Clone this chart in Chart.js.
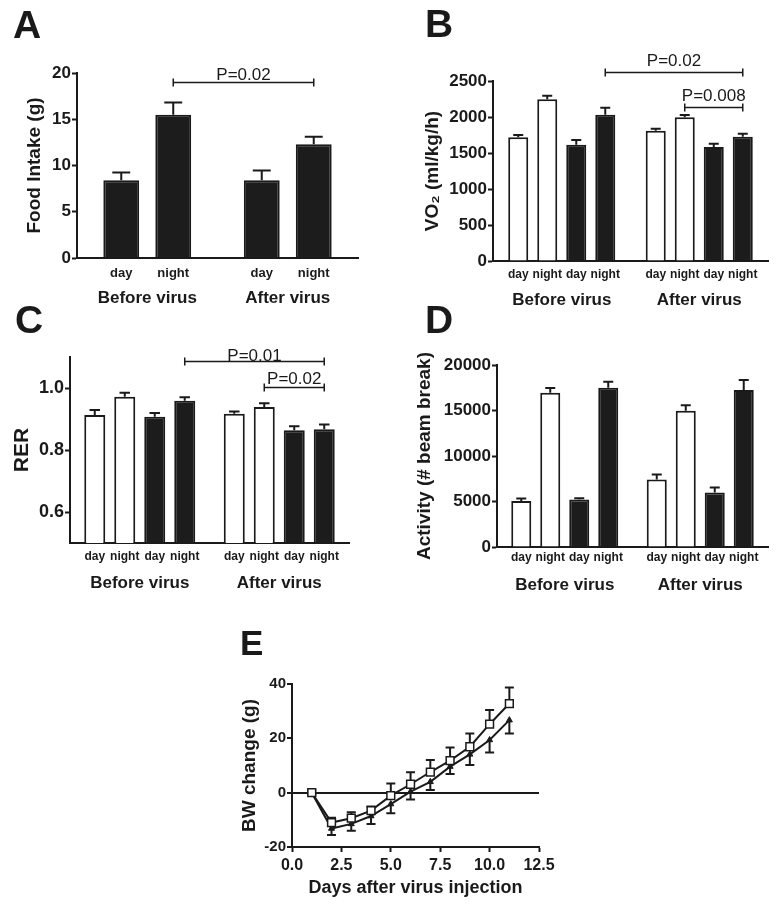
<!DOCTYPE html>
<html>
<head>
<meta charset="utf-8">
<script src="https://cdn.jsdelivr.net/npm/chart.js@4.4.1/dist/chart.umd.min.js"></script>
<style>
  html, body { margin: 0; padding: 0; background: #fff; }
  body { width: 777px; height: 907px; position: relative; overflow: hidden; }
  canvas { position: absolute; }
</style>
</head>
<body>
<canvas id="chartA" width="380" height="310" style="left:0px;top:0px"></canvas>
<canvas id="chartB" width="387" height="310" style="left:390px;top:0px"></canvas>
<canvas id="chartC" width="380" height="310" style="left:0px;top:300px"></canvas>
<canvas id="chartD" width="387" height="310" style="left:390px;top:300px"></canvas>
<canvas id="chartE" width="400" height="287" style="left:200px;top:620px"></canvas>
<script>
// ---- data ----
const groups = ['Before virus', 'After virus'];

// A: food intake (g)
const foodDay = [8.4, 8.4];
const foodNight = [15.5, 12.3];
const foodDayErr = [0.85, 1.05];
const foodNightErr = [1.3, 0.8];
const foodTicks = [0, 5, 10, 15, 20];

// B: VO2 (ml/kg/h)  white = first group, black = second group
const vo2WhiteDay = [1720, 1810];
const vo2WhiteNight = [2245, 1995];
const vo2BlackDay = [1615, 1585];
const vo2BlackNight = [2030, 1727];
const vo2WhiteDayErr = [30, 28];
const vo2WhiteNightErr = [50, 33];
const vo2BlackDayErr = [65, 42];
const vo2BlackNightErr = [100, 42];
const vo2Ticks = [0, 500, 1000, 1500, 2000, 2500];

// C: RER
const rerWhiteDay = [0.913, 0.917];
const rerWhiteNight = [0.972, 0.939];
const rerBlackDay = [0.907, 0.864];
const rerBlackNight = [0.959, 0.867];
const rerWhiteDayErr = [0.016, 0.007];
const rerWhiteNightErr = [0.013, 0.012];
const rerBlackDayErr = [0.012, 0.013];
const rerBlackNightErr = [0.011, 0.015];
const rerTicks = [0.6, 0.8, 1.0];

// D: activity (# beam break)
const actWhiteDay = [5060, 7410];
const actWhiteNight = [16950, 14970];
const actBlackDay = [5210, 5980];
const actBlackNight = [17500, 17250];
const actWhiteDayErr = [260, 550];
const actWhiteNightErr = [510, 620];
const actBlackDayErr = [150, 550];
const actBlackNightErr = [660, 1100];
const actTicks = [0, 5000, 10000, 15000, 20000];

// E: body weight change (g)
const days = [1, 2, 3, 4, 5, 6, 7, 8, 9, 10, 11];
const bwSquare = [0, -11.0, -9.4, -6.6, -1.1, 3.1, 7.6, 11.8, 16.9, 25.2, 32.8];
const bwSquareErr = [0.8, 1.8, 2.2, 1.5, 4.5, 4.4, 4.4, 4.8, 4.9, 5.2, 5.9];
const bwTriangle = [0, -13.2, -11.5, -8.6, -4.2, 0.4, 4.0, 9.6, 14.1, 19.4, 26.7];
const bwTriangleErr = [0.8, 2.4, 2.5, 2.9, 3.4, 2.9, 3.0, 2.7, 3.9, 4.6, 4.9];
const dayTicks = [0, 2.5, 5, 7.5, 10, 12.5];
const bwTicks = [-20, 0, 20, 40];

// ---- style ----
const INK = '#1a1a1a';
const FONT = '"Liberation Sans", Arial, Helvetica, sans-serif';
Chart.defaults.font.family = FONT;
Chart.defaults.color = INK;

// error bars, day/night labels, P-value brackets, panel letters
const decor = {
  id: 'decor',
  beforeDatasetsDraw(chart, args, o) {
    const ctx = chart.ctx, ys = chart.scales.y;
    ctx.save();
    ctx.strokeStyle = INK;
    ctx.lineWidth = 2;
    chart.data.datasets.forEach((ds, di) => {
      if (!ds.errors) return;
      const dir = ds.errDir || 1;
      chart.getDatasetMeta(di).data.forEach((el, i) => {
        const raw = ds.data[i];
        const v = typeof raw === 'object' ? raw.y : raw;
        const y0 = ys.getPixelForValue(v);
        const y1 = ys.getPixelForValue(v + dir * ds.errors[i]);
        const half = (o.cap || el.width / 2) / 2;
        ctx.beginPath();
        ctx.moveTo(el.x, y0); ctx.lineTo(el.x, y1);
        ctx.moveTo(el.x - half, y1); ctx.lineTo(el.x + half, y1);
        ctx.stroke();
      });
    });
    ctx.restore();
  },
  afterDraw(chart, args, o) {
    const ctx = chart.ctx, area = chart.chartArea, ys = chart.scales.y;
    ctx.save();
    ctx.fillStyle = INK;
    ctx.strokeStyle = INK;

    ctx.font = 'bold ' + o.letterSize + 'px ' + FONT;
    ctx.textAlign = 'left';
    ctx.textBaseline = 'alphabetic';
    ctx.fillText(o.letter, o.letterX, o.letterY);

    if (o.subY) {
      ctx.font = 'bold ' + (o.subSize || 12) + 'px ' + FONT;
      ctx.textAlign = 'center';
      ctx.textBaseline = 'middle';
      chart.data.datasets.forEach((ds, di) => {
        chart.getDatasetMeta(di).data.forEach(el => {
          ctx.fillText(ds.label, el.x, area.bottom + o.subY);
        });
      });
    }

    (o.brackets || []).forEach(b => {
      const x0 = chart.getDatasetMeta(b.from[0]).data[b.from[1]].x;
      const x1 = chart.getDatasetMeta(b.to[0]).data[b.to[1]].x;
      const y = Math.round(ys.getPixelForValue(b.y)) + 0.5;
      ctx.lineWidth = 1.5;
      ctx.beginPath();
      ctx.moveTo(x0, y); ctx.lineTo(x1, y);
      ctx.moveTo(x0, y - 4); ctx.lineTo(x0, y + 4);
      ctx.moveTo(x1, y - 4); ctx.lineTo(x1, y + 4);
      ctx.stroke();
      ctx.font = '17px ' + FONT;
      ctx.textAlign = 'center';
      ctx.textBaseline = 'alphabetic';
      ctx.fillText(b.text, (x0 + x1) / 2, y - b.gap);
    });
    ctx.restore();
  }
};

function bars(label, data, errors, fill, cp, bp) {
  return {
    label, data, errors,
    backgroundColor: fill, borderColor: INK, borderWidth: 2,
    categoryPercentage: cp, barPercentage: bp
  };
}

function barChart(id, c) {
  return new Chart(document.getElementById(id), {
    type: 'bar',
    data: { labels: groups, datasets: c.datasets },
    plugins: [decor],
    options: {
      responsive: false,
      animation: false,
      layout: { padding: c.pad },
      plugins: { legend: { display: false }, tooltip: { enabled: false }, decor: c.decor },
      scales: {
        x: {
          grid: { display: false, drawTicks: false },
          border: { color: INK, width: 2 },
          ticks: { font: { size: 17, weight: 'bold' }, padding: c.xPad, maxRotation: 0, autoSkip: false },
          afterFit: s => { s.height = c.xH; }
        },
        y: {
          min: c.min, max: c.max,
          afterBuildTicks: s => { s.ticks = c.ticks.map(v => ({ value: v })); },
          grid: { drawOnChartArea: false, tickLength: 5, tickColor: INK, tickWidth: 2 },
          border: { color: INK, width: 2 },
          ticks: { font: { size: c.tickSize || 17, weight: 'bold' }, padding: 1, callback: c.fmt || (v => String(v)) },
          title: { display: true, text: c.title, font: { size: c.titleSize || 19, weight: 'bold' }, padding: { top: c.tPad, bottom: 0 } },
          afterFit: s => { s.width = c.yW; }
        }
      }
    }
  });
}

const WHITE = '#ffffff', BLACK = '#1c1c1c';

barChart('chartA', {
  datasets: [
    bars('day', foodDay, foodDayErr, BLACK, 0.74, 0.69),
    bars('night', foodNight, foodNightErr, BLACK, 0.74, 0.69)
  ],
  pad: { left: 0, top: 73, right: 22, bottom: 0 }, yW: 77, xH: 52, xPad: 29.8,
  min: 0, max: 20, ticks: foodTicks, title: 'Food Intake (g)', tPad: 23.6,
  decor: {
    letter: 'A', letterX: 13, letterY: 38, letterSize: 39, subY: 15, subSize: 13,
    brackets: [{ from: [1, 0], to: [1, 1], y: 19.0, text: 'P=0.02', gap: 3 }]
  }
});

barChart('chartB', {
  datasets: [
    bars('day', vo2WhiteDay, vo2WhiteDayErr, WHITE, 0.844, 0.69),
    bars('night', vo2WhiteNight, vo2WhiteNightErr, WHITE, 0.844, 0.69),
    bars('day', vo2BlackDay, vo2BlackDayErr, BLACK, 0.844, 0.69),
    bars('night', vo2BlackNight, vo2BlackNightErr, BLACK, 0.844, 0.69)
  ],
  pad: { left: 0, top: 81, right: 9, bottom: 0 }, yW: 103, xH: 49, xPad: 28.8,
  min: 0, max: 2500, ticks: vo2Ticks, title: 'VO\u2082 (ml/kg/h)', tPad: 31.6,
  decor: {
    letter: 'B', letterX: 35, letterY: 37, letterSize: 39, subY: 14,
    brackets: [
      { from: [3, 0], to: [3, 1], y: 2625, text: 'P=0.02', gap: 7 },
      { from: [1, 1], to: [3, 1], y: 2139, text: 'P=0.008', gap: 7 }
    ]
  }
});

barChart('chartC', {
  datasets: [
    bars('day', rerWhiteDay, rerWhiteDayErr, WHITE, 0.86, 0.7),
    bars('night', rerWhiteNight, rerWhiteNightErr, WHITE, 0.86, 0.7),
    bars('day', rerBlackDay, rerBlackDayErr, BLACK, 0.86, 0.7),
    bars('night', rerBlackNight, rerBlackNightErr, BLACK, 0.86, 0.7)
  ],
  pad: { left: 0, top: 57, right: 31, bottom: 0 }, yW: 70, xH: 67, xPad: 29.8,
  min: 0.5, max: 1.1, ticks: rerTicks, fmt: v => v.toFixed(1), tickSize: 18,
  title: 'RER', titleSize: 21, tPad: 9.4,
  decor: {
    letter: 'C', letterX: 15, letterY: 33, letterSize: 39, subY: 14,
    brackets: [
      { from: [3, 0], to: [3, 1], y: 1.088, text: 'P=0.01', gap: 1 },
      { from: [1, 1], to: [3, 1], y: 1.003, text: 'P=0.02', gap: 4 }
    ]
  }
});

barChart('chartD', {
  datasets: [
    bars('day', actWhiteDay, actWhiteDayErr, WHITE, 0.856, 0.69),
    bars('night', actWhiteNight, actWhiteNightErr, WHITE, 0.856, 0.69),
    bars('day', actBlackDay, actBlackDayErr, BLACK, 0.856, 0.69),
    bars('night', actBlackNight, actBlackNightErr, BLACK, 0.856, 0.69)
  ],
  pad: { left: 0, top: 65, right: 9, bottom: 0 }, yW: 107, xH: 63, xPad: 27.8,
  min: 0, max: 20000, ticks: actTicks, title: 'Activity (# beam break)', tPad: 23.6,
  decor: { letter: 'D', letterX: 35, letterY: 33, letterSize: 39, subY: 11 }
});

new Chart(document.getElementById('chartE'), {
  type: 'line',
  data: {
    datasets: [
      {
        label: 'square', data: days.map((d, i) => ({ x: d, y: bwSquare[i] })),
        errors: bwSquareErr, errDir: 1,
        borderColor: INK, borderWidth: 2, pointStyle: 'rect', pointRadius: 5.5,
        pointBackgroundColor: '#ffffff', pointBorderColor: INK, pointBorderWidth: 1.5
      },
      {
        label: 'triangle', data: days.map((d, i) => ({ x: d, y: bwTriangle[i] })),
        errors: bwTriangleErr, errDir: -1,
        borderColor: INK, borderWidth: 2, pointStyle: 'triangle', pointRadius: 3.5,
        pointBackgroundColor: INK, pointBorderColor: INK, pointBorderWidth: 1
      }
    ]
  },
  plugins: [decor],
  options: {
    responsive: false,
    animation: false,
    layout: { padding: { left: 0, top: 64, right: 61, bottom: 0 } },
    plugins: {
      legend: { display: false }, tooltip: { enabled: false },
      decor: { letter: 'E', letterX: 40, letterY: 35, letterSize: 35, cap: 9 }
    },
    scales: {
      x: {
        type: 'linear', min: 0, max: 12.5,
        afterBuildTicks: s => { s.ticks = dayTicks.map(v => ({ value: v })); },
        grid: { drawOnChartArea: false, tickLength: 5, tickColor: INK, tickWidth: 2 },
        border: { color: INK, width: 2 },
        ticks: { font: { size: 16, weight: 'bold' }, padding: 4.4, maxRotation: 0, callback: v => v.toFixed(1) },
        title: { display: true, text: 'Days after virus injection', font: { size: 18, weight: 'bold' }, padding: { top: 0, bottom: 8.2 } },
        afterFit: s => { s.height = 60; }
      },
      y: {
        min: -20, max: 40,
        afterBuildTicks: s => { s.ticks = bwTicks.map(v => ({ value: v })); },
        grid: {
          drawOnChartArea: true, tickLength: 5, tickColor: INK, tickWidth: 2,
          color: ctx => (ctx.tick && ctx.tick.value === 0 ? INK : 'rgba(0,0,0,0)'), lineWidth: 2
        },
        border: { color: INK, width: 2 },
        ticks: { font: { size: 15, weight: 'bold' }, padding: 1, callback: v => String(v) },
        title: { display: true, text: 'BW change (g)', font: { size: 19, weight: 'bold' }, padding: { top: 38.6, bottom: 0 } },
        afterFit: s => { s.width = 92; }
      }
    }
  }
});
</script>
</body>
</html>
